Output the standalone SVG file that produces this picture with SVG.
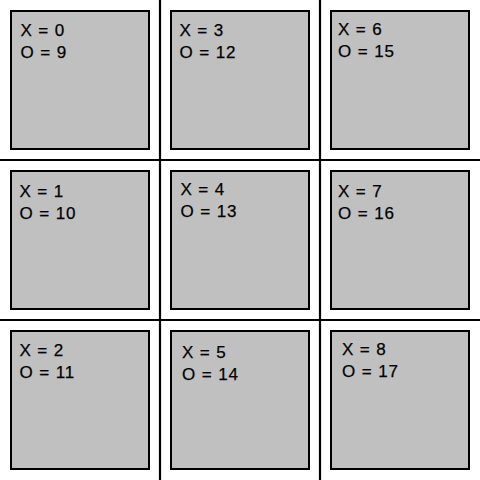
<svg xmlns="http://www.w3.org/2000/svg" width="480" height="480" viewBox="0 0 480 480">
<style>
.box{fill:#c0c0c0;stroke:#000;stroke-width:2}
.grid line{stroke:#000;stroke-width:2.2}
text{font-family:"Liberation Sans",Arial,sans-serif;font-size:17px;letter-spacing:0.9px;fill:#000;stroke:#000;stroke-width:0.25}
</style>
<rect width="480" height="480" fill="#fff"/>
<g id="connectors" class="grid">
<line x1="160" y1="0" x2="160" y2="480"/>
<line x1="320" y1="0" x2="320" y2="480"/>
<line x1="0" y1="160" x2="480" y2="160"/>
<line x1="0" y1="320" x2="480" y2="320"/>
</g>
<g id="cell0"><rect class="box" x="11" y="11" width="138" height="138"/><text x="20.5" y="36">X = 0</text><text x="20.5" y="58">O = 9</text></g>
<g id="cell1"><rect class="box" x="11" y="171" width="138" height="138"/><text x="19.5" y="196.5">X = 1</text><text x="19.5" y="218.5">O = 10</text></g>
<g id="cell2"><rect class="box" x="11" y="331" width="138" height="138"/><text x="19.5" y="356">X = 2</text><text x="19.5" y="378">O = 11</text></g>
<g id="cell3"><rect class="box" x="171" y="11" width="138" height="138"/><text x="179.5" y="35.5">X = 3</text><text x="179.5" y="57.5">O = 12</text></g>
<g id="cell4"><rect class="box" x="171" y="171" width="138" height="138"/><text x="180.5" y="194.5">X = 4</text><text x="180.5" y="216.5">O = 13</text></g>
<g id="cell5"><rect class="box" x="171" y="331" width="138" height="138"/><text x="182" y="358">X = 5</text><text x="182" y="380">O = 14</text></g>
<g id="cell6"><rect class="box" x="331" y="11" width="138" height="138"/><text x="338" y="35">X = 6</text><text x="338" y="57">O = 15</text></g>
<g id="cell7"><rect class="box" x="331" y="171" width="138" height="138"/><text x="338" y="196.5">X = 7</text><text x="338" y="218.5">O = 16</text></g>
<g id="cell8"><rect class="box" x="331" y="331" width="138" height="138"/><text x="342" y="354.5">X = 8</text><text x="342" y="376.5">O = 17</text></g>
</svg>
